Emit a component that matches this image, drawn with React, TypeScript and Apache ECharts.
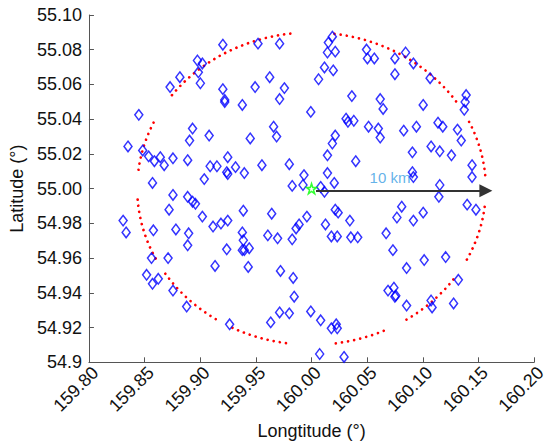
import React, { useEffect, useRef } from "react";
import * as echarts from "echarts";

const xTickLabels = ["159.80", "159.85", "159.90", "159.95", "160.00", "160.05", "160.10", "160.15", "160.20"];
const yTickLabels = ["54.9", "54.92", "54.94", "54.96", "54.98", "55.00", "55.02", "55.04", "55.06", "55.08", "55.10"];

const stationLon = [
  159.9203, 159.9519, 159.9713, 159.8975, 159.9019, 159.8983, 159.8817, 159.8729, 159.9001, 159.9203,
  159.9493, 159.9624, 159.9756, 159.9220, 159.9220, 159.9378, 159.9713, 159.8448, 159.8931, 159.8904,
  159.9080, 159.9449, 159.9659, 159.9686, 159.8351, 159.8483, 159.8536, 159.8588, 159.8641, 159.8676,
  159.8755, 159.8887, 159.9089, 159.9150, 159.9247, 159.9317, 159.9238, 159.9247, 159.9396, 159.9554,
  159.9800, 159.9036, 159.8571, 159.9826, 159.8755, 159.8887, 159.8307, 159.8334, 159.8579, 159.8720,
  159.8781, 159.8931, 159.8957, 159.8896, 159.8887, 159.8562, 159.8711, 159.8518, 159.8571, 159.8623,
  159.8755, 159.8878, 159.9019, 159.9115, 159.9186, 159.9247, 159.9387, 159.9642, 159.9378, 159.9387,
  159.9378, 159.9396, 159.9440, 159.9238, 159.9607, 159.9695, 159.9826, 159.9861, 159.9133, 159.9431,
  159.9721, 159.9835, 159.9844, 159.9264, 159.9713, 159.9800, 159.9633, 159.9993, 160.0082, 160.0178,
  160.0222, 160.0231, 160.0073, 160.0292, 160.0749, 160.0854, 160.1074, 160.1083, 160.1276, 159.9923,
  160.0082, 160.0116, 160.0204, 159.9958, 160.0213, 160.0239, 160.0125, 160.0344, 159.9888, 160.0178,
  160.0231, 160.0353, 160.0415, 160.1152, 160.1144, 160.0810, 160.0767, 160.0915, 160.1003, 160.0670,
  160.1398, 160.1477, 160.0731, 160.0854, 160.1012, 160.1205, 160.0687, 160.0740, 160.0757, 160.1319,
  160.0187, 160.0151, 160.0143, 160.0213, 160.0116, 160.0195, 160.0063, 160.0494, 160.0502, 160.0564,
  160.0845, 160.0749, 160.0749, 160.0915, 160.1065, 160.0362, 160.0617, 160.0643, 160.1003, 159.9993,
  160.1389, 160.1380, 160.1372, 160.0310, 160.0327, 160.0380, 160.0512, 160.0600, 160.0617, 160.0828,
  160.0942, 160.1136, 160.1179, 160.1311, 160.1345, 160.0213, 160.0187, 160.0143, 160.0397, 160.1074,
  160.1152, 160.1257, 160.0906, 160.1442, 160.1442, 160.0906, 160.0915, 159.9932, 160.0143,
];
const stationLat = [
  55.0829, 55.0835, 55.0835, 55.0738, 55.0721, 55.0670, 55.0642, 55.0585, 55.0607, 55.0573,
  55.0585, 55.0642, 55.0579, 55.0511, 55.0499, 55.0482, 55.0516, 55.0425, 55.0346, 55.0277,
  55.0306, 55.0289, 55.0357, 55.0300, 55.0243, 55.0220, 55.0186, 55.0158, 55.0181, 55.0135,
  55.0175, 55.0164, 55.0129, 55.0129, 55.0181, 55.0124, 55.0095, 55.0084, 55.0090, 55.0135,
  55.0141, 55.0055, 55.0033, 55.0016, 54.9964, 54.9953, 54.9816, 54.9748, 54.9760, 54.9879,
  54.9765, 54.9925, 54.9913, 54.9743, 54.9674, 54.9600, 54.9600, 54.9504, 54.9452, 54.9481,
  54.9413, 54.9321, 54.9839, 54.9782, 54.9799, 54.9816, 54.9873, 54.9856, 54.9748, 54.9703,
  54.9646, 54.9646, 54.9657, 54.9651, 54.9731, 54.9714, 54.9708, 54.9771, 54.9555, 54.9549,
  54.9526, 54.9486, 54.9378, 54.9219, 54.9287, 54.9282, 54.9230, 54.9293, 54.9242, 54.9196,
  54.9219, 54.9196, 54.9048, 54.9031, 54.9378, 54.9327, 54.9356, 54.9316, 54.9339, 55.0021,
  55.0010, 54.9982, 55.0033, 54.9839, 54.9879, 54.9862, 54.9794, 54.9816, 54.9794, 54.9725,
  54.9725, 54.9720, 54.9720, 55.0021, 54.9953, 54.9896, 54.9834, 54.9816, 54.9862, 54.9743,
  54.9908, 54.9879, 54.9646, 54.9543, 54.9589, 54.9606, 54.9413, 54.9430, 54.9384, 54.9475,
  55.0875, 55.0841, 55.0784, 55.0789, 55.0698, 55.0681, 55.0630, 55.0801, 55.0750, 55.0750,
  55.0784, 55.0750, 55.0659, 55.0721, 55.0636, 55.0533, 55.0516, 55.0459, 55.0482, 55.0442,
  55.0539, 55.0499, 55.0454, 55.0403, 55.0385, 55.0391, 55.0357, 55.0346, 55.0294, 55.0334,
  55.0357, 55.0380, 55.0357, 55.0340, 55.0277, 55.0306, 55.0260, 55.0192, 55.0158, 55.0243,
  55.0215, 55.0192, 55.0209, 55.0135, 55.0067, 55.0095, 55.0067, 55.0078, 55.0090,
];

// centre of the 10 km circle and its radius in degrees
const centerLon = 160.0;
const centerLat = 55.0;
const radiusKm = 10;
const lonRadius = radiusKm / (111.32 * Math.cos((centerLat * Math.PI) / 180));
const latRadius = radiusKm / 111.2;
// visible arcs of the dotted circle (degrees, counter-clockwise from east)
const arcStart = [5, 34, 97, 155, 184, 213, 243, 278, 303, 333];
const arcEnd = [26, 83, 145, 175, 207, 237, 262, 296, 325, 355];

const arrowStartLon = 160.004;
const arrowLat = 54.9988;
const labelLon = 160.0705;
const labelLat = 55.0062;
const labelText = "10 km";

const STAR = "path://M0,-10L2.35,-3.24L9.51,-3.09L3.8,1.24L5.88,8.09L0,4L-5.88,8.09L-3.8,1.24L-9.51,-3.09L-2.35,-3.24Z";

export default function App() {
  const ref = useRef<HTMLDivElement>(null);
  useEffect(() => {
    if (!ref.current) return;
    const chart = echarts.init(ref.current, undefined, { renderer: "svg" });
    const font = "'Liberation Sans', Arial, sans-serif";
    const axisColor = "#555555";
    const option: any = {
      animation: false,
      grid: { left: 87, right: 6, top: 15, bottom: 78 },
      xAxis: {
        type: "value",
        min: 159.8,
        max: 160.2,
        interval: 0.05,
        name: "Longtitude (°)",
        nameLocation: "middle",
        nameGap: 57,
        nameTextStyle: { fontFamily: font, fontSize: 18, color: "#111" },
        axisLine: { show: true, lineStyle: { color: axisColor, width: 1 } },
        axisTick: { show: true, inside: true, length: 5, lineStyle: { color: axisColor } },
        splitLine: { show: false },
        axisLabel: {
          rotate: 45,
          margin: 1,
          align: "right",
          verticalAlign: "top",
          padding: [0, 0, 0, 0],
          fontFamily: font,
          fontSize: 18,
          color: "#111",
          formatter: (v: number) => xTickLabels[Math.round((v - 159.8) / 0.05)] ?? "",
        },
      },
      yAxis: {
        type: "value",
        min: 54.9,
        max: 55.1,
        interval: 0.02,
        name: "Latitude (°)",
        nameLocation: "middle",
        nameGap: 50,
        nameTextStyle: { fontFamily: font, fontSize: 18, color: "#111" },
        axisLine: { show: true, lineStyle: { color: axisColor, width: 1 } },
        axisTick: { show: true, inside: true, length: 5, lineStyle: { color: axisColor } },
        splitLine: { show: false },
        axisLabel: {
          margin: 7,
          fontFamily: font,
          fontSize: 18,
          color: "#111",
          formatter: (v: number) => yTickLabels[Math.round((v - 54.9) / 0.02)] ?? "",
        },
      },
      series: [
        {
          type: "custom",
          coordinateSystem: "cartesian2d",
          encode: { x: 0, y: 1 },
          data: arcStart.map((s, i) => [centerLon, centerLat, s, arcEnd[i]]),
          renderItem: (params: any, api: any) => {
            const cx = api.value(0);
            const cy = api.value(1);
            const s = api.value(2);
            const e = api.value(3);
            const pts: number[][] = [];
            for (let a = s; a <= e + 0.001; a += 1) {
              const r = (a * Math.PI) / 180;
              pts.push(api.coord([cx + lonRadius * Math.cos(r), cy + latRadius * Math.sin(r)]));
            }
            return {
              type: "polyline",
              shape: { points: pts },
              style: { stroke: "#ff0000", fill: null, lineWidth: 2.7, lineDash: [0.01, 6.2], lineCap: "round" },
            };
          },
          z: 2,
        },
        {
          type: "scatter",
          data: stationLon.map((x, i) => [x, stationLat[i]]),
          symbol: "diamond",
          symbolSize: [8, 10.5],
          itemStyle: { color: "rgba(0,0,0,0)", borderColor: "#0000ff", borderWidth: 1.5 },
          z: 3,
        },
        {
          type: "lines",
          coordinateSystem: "cartesian2d",
          data: [{ coords: [[arrowStartLon, arrowLat], [centerLon + lonRadius, arrowLat]] }],
          symbol: ["none", "triangle"],
          symbolSize: [10, 13],
          lineStyle: { color: "#333333", width: 2, opacity: 1 },
          itemStyle: { color: "#333333" },
          z: 4,
        },
        {
          type: "scatter",
          data: [[centerLon, centerLat]],
          symbol: STAR,
          symbolSize: 10,
          itemStyle: { color: "rgba(0,0,0,0)", borderColor: "#00ff00", borderWidth: 1.6 },
          z: 5,
        },
        {
          type: "scatter",
          data: [[labelLon, labelLat]],
          symbolSize: 0,
          label: {
            show: true,
            position: "inside",
            formatter: labelText,
            fontFamily: font,
            fontSize: 15,
            color: "#3a9ee4",
          },
          z: 6,
        },
      ],
    };
    chart.setOption(option);
    return () => chart.dispose();
  }, []);
  return <div ref={ref} style={{ position: "fixed", left: 0, top: 0, width: 549, height: 445, background: "#fff" }} />;
}
